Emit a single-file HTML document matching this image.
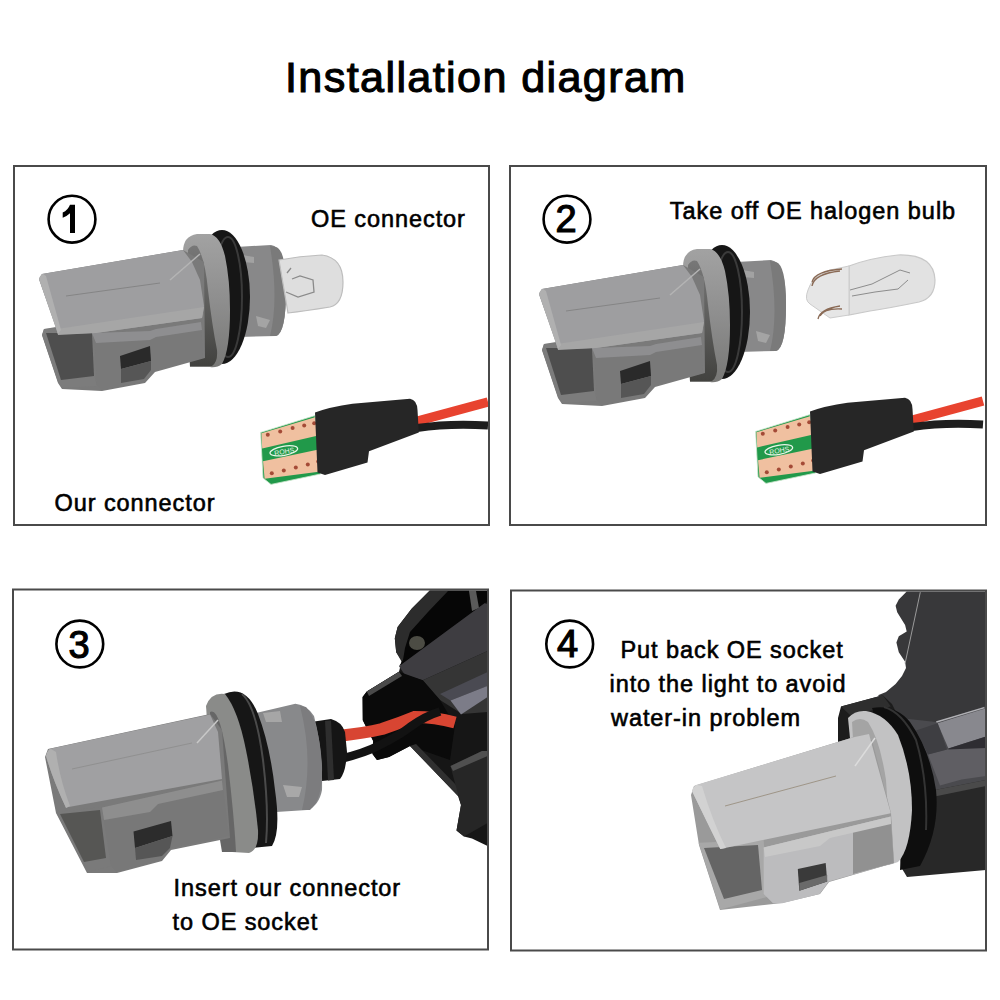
<!DOCTYPE html>
<html><head><meta charset="utf-8"><style>
html,body{margin:0;padding:0;background:#fff;width:1000px;height:1000px;overflow:hidden}
svg{display:block}
text{font-family:"Liberation Sans",sans-serif}
</style></head><body>
<svg width="1000" height="1000" viewBox="0 0 1000 1000">
<rect width="1000" height="1000" fill="#fff"/>
<defs>
<g id="conn">
  <!-- cylinder -->
  <path d="M236,247 L271,245 Q286,247 286,290 Q286,333 276,336 L238,337 Z" fill="#888889"/>
  <path d="M276,247 Q286,250 286,290 Q286,333 276,336 L270,336 Q279,300 270,246 Z" fill="#7a7a7a"/>
  <path d="M242,255 L254,257 L254,263 L243,262 Z" fill="#a2a2a2"/>
  <path d="M256,316 L270,320 L266,328 L258,326 Z" fill="#a4a4a4"/>
  <!-- ring -->
  <ellipse cx="222" cy="297" rx="28" ry="67" fill="#161616"/>
  <ellipse cx="228" cy="297" rx="14" ry="60" fill="none" stroke="#3a3a3a" stroke-width="2"/>
  <!-- flange -->
  <linearGradient id="gFl" gradientUnits="userSpaceOnUse" x1="0" y1="234" x2="0" y2="367"><stop offset="0" stop-color="#a2a2a2"/><stop offset="0.5" stop-color="#8e8e8e"/><stop offset="1" stop-color="#787876"/></linearGradient>
  <linearGradient id="gFi" gradientUnits="userSpaceOnUse" x1="0" y1="246" x2="0" y2="366"><stop offset="0" stop-color="#777"/><stop offset="1" stop-color="#42423f"/></linearGradient>
  <path d="M183,252 Q183,236 197,234 L210,234 Q220,236 225,256 Q230,280 230,310 Q230,350 222,364 Q217,368 210,367 L190,367 Z" fill="url(#gFl)"/>
  <path d="M188,250 Q192,244 197,246 Q205,258 208,290 Q212,325 217,350 Q218,362 212,366 L190,366 Z" fill="url(#gFi)"/>
  <path d="M42,274 L183,250 L204,262 L205,358 L155,372 L145,383 L102,391 L62,389 L58,383 L42,335 L44,329 L56,327 L39,279 Z" fill="#7a7a7a"/>
  <!-- tongue -->
  <path d="M44,329 L92,327 L95,378 L97,386 L62,388 L58,382 L42,335 Z" fill="#7c7c7c"/>
  <path d="M46,333 L92,333 L94,376 L61,380 Z" fill="#4e4e4e"/>
  <!-- front block -->
  <path d="M92,333 L150,331 L156,329 L201,322 L203,358 L155,370 L145,382 L102,390 L97,385 L95,350 Z" fill="#797979"/>
  <path d="M92,333 L150,331 L156,329 L201,322 L202,330 L156,337 L150,340 L96,343 Z" fill="#8e8e90"/>
  <path d="M120,356 L150,346 L151,361 L121,369 Z" fill="#2a2a2a"/>
  <path d="M121,369 L151,361 L151,370 L144,379 L121,383 Z" fill="#565656"/>
  <!-- top plate -->
  <path d="M42,274 L183,250 L192,262 L200,280 L204,306 L202,318 L96,333 L58,334 L39,279 Z" fill="#9e9ea0"/>
  <path d="M57,329 L204,307 L202,318 L96,333 L58,335 Z" fill="#a6a6a6"/>
  <path d="M39,279 Q40,275 43,274 L46,276 L61,330 L58,334 Z" fill="#b0b0b0"/>
  <path d="M66,296 L160,283" stroke="#7e7e7e" stroke-width="0.8" fill="none"/>
  <path d="M170,280 L200,254" stroke="#b4b4b4" stroke-width="1.5" fill="none"/>
</g>
<g id="bulb1">
  <path d="M279,260 Q300,256 322,255 Q343,258 343,282 Q343,304 330,307 Q305,311 288,313 Z" fill="#dedede" stroke="#bdbdbd" stroke-width="1.2"/>
  <path d="M286,292 L298,297 L314,292 L313,280 L300,276 L292,279 M287,273 L291,268" fill="none" stroke="#8a8a8a" stroke-width="1.3"/>
</g>
<g id="pcb">
  <path d="M260.6,432.4 L315,415.6 L320.6,474 L271,484.4 L263,478 Z" fill="#21994a" stroke="#cfe8d0" stroke-width="0.8"/>
  <path d="M261.4,433.2 L315,417.2 L318.2,435.6 L262.2,448.4 Z" fill="#f0c0a0"/>
  <path d="M263,461.2 L319.8,449.2 L320.6,471.6 L264.6,478.8 Z" fill="#f0c0a0"/>
  <ellipse cx="283.8" cy="450.8" rx="14" ry="4.6" transform="rotate(-10 283.8 450.8)" fill="none" stroke="#e8f5e8" stroke-width="1.3"/>
  <text x="274" y="454" font-size="7" fill="#e8f5e8" transform="rotate(-10 283.8 450.8)">ROHS</text>
  <g fill="#a44a36">
    <circle cx="267.8" cy="434.8" r="2"/><circle cx="280.2" cy="431.6" r="2"/><circle cx="292.6" cy="428" r="2"/><circle cx="304.2" cy="425.6" r="2"/><circle cx="314.2" cy="423.2" r="2"/>
    <circle cx="271.8" cy="473.2" r="2"/><circle cx="283.8" cy="470.4" r="2"/><circle cx="295.8" cy="467.6" r="2"/><circle cx="307.8" cy="464.4" r="2"/><circle cx="318.2" cy="461.6" r="2"/>
  </g>
  <path d="M488,402 L414,422" stroke="#e8432f" stroke-width="9.5" fill="none"/>
  <path d="M417,428 Q450,423 488,425.5" stroke="#1e1e1e" stroke-width="8" fill="none"/>
  <path d="M315,412.5 Q330,407 352.5,403.8 L410,398.8 Q417,400 417.5,410 L418.8,432.5 L369,451.3 L367.5,462.5 L325,475 L317.5,472.5 Z" fill="#262626"/>
</g>
</defs>

<use href="#conn"/>
<use href="#bulb1"/>
<use href="#pcb"/>
<use href="#conn" transform="translate(500,15)"/>
<g id="bulb2">
  <path d="M849,266 Q870,258 898,255 Q934,254 935,280 Q935,298 919,302 Q890,308 870,311 L849,315 Z" fill="#e2e2e2" stroke="#c8c8c8" stroke-width="1.2"/>
  <path d="M849,266 L830,270 Q812,276 808,290 Q804,300 810,304 L830,318 L849,315 Z" fill="#e6e6e6" stroke="#cccccc" stroke-width="1"/>
  <path d="M812,286 Q814,274 840,271 M812,282 Q815,271 842,269 M818,319 Q820,309 840,306 M820,316 Q824,308 842,309" stroke="#8a6a55" stroke-width="1.3" fill="none"/>
  <path d="M850,290 L872,284 L900,270 L910,273 M852,296 L875,292 L898,289 L908,280" stroke="#8c8c8c" stroke-width="1" fill="none"/>
</g>

<use href="#pcb" transform="translate(495,-1)"/>

<!-- ===== BOX 3 ===== -->
<g id="box3">
  <!-- housing base -->
  <path d="M429.8,590.6 L487.6,590.6 L487.6,846 L472,838.5 L464,836.5 L456.5,830.5 L461,805 L458,796 L410,746 L389,757 L377,760 L372.5,754 L373.2,741 L362.8,720.2 L362.6,697 L366.8,691.4 L399,671.8 L401.8,660.6 L396.2,652.2 L394.8,638.2 L397.6,627 L411.6,608.8 Z" fill="#161616"/>
  <!-- arm -->
  <path d="M429.8,590.6 L469,590.6 L469,596 L430,625 L410,648 L401.8,662 L396.2,652.2 L394.8,638.2 L397.6,627 L411.6,608.8 Z" fill="#2c2c2c"/>
  <path d="M448,591 L487,591 L487,602 L484.5,603.2 L399,666.2 L403,660 L405,648 L410,632 L428,612 Z" fill="#060606"/>
  <ellipse cx="417" cy="643" rx="8" ry="7" fill="#4c4c44"/>
  <path d="M469,591 L476,591 L479,608 L472,611 Z" fill="#5a5a5a"/>
  <!-- bar -->
  <path d="M399,666.2 L484.5,603.2 L487.6,604 L487.6,651 L422.8,680.2 L405,675 Z" fill="#3e3d41"/>
  <path d="M422.8,680.2 L487.6,651 L487.6,712 L462,714 L440,700 Z" fill="#353535"/>
  <path d="M440,694 L487.6,672 L487.6,686 L450.5,700.6 Z" fill="#4a4a52"/>
  <path d="M450.5,700.6 L486,686.6 L487.6,686 L487.6,697 L461,714.6 Z" fill="#7c7c88"/>
  <!-- left block -->
  <path d="M366.8,691.4 L399,671.8 L422.8,680.2 L440,700 L455,725 L450,760 L410,746 L389,757 L377,760 L372.5,754 L373.2,741 L362.8,720.2 L362.6,697 Z" fill="#0a0a0a"/>
  <path d="M366.8,691.4 L399,671.8 L402,676 L369,696 Z" fill="#4a4a4a"/>
  <path d="M410,746 L458,796 L461,790 L416,744 Z" fill="#303030"/>
  <!-- hook -->
  <path d="M450.5,766 L482,751 L487.6,751 L487.6,823 L464,836.5 L456.5,830.5 L461,805 L452,772 Z" fill="#262626"/>
  <path d="M450.5,766 L482,751 L487.6,751 L487.6,756 L453,771 Z" fill="#505050"/>
  <!-- wires -->
  <path d="M338,736 Q365,733 382,729 Q400,723 414.5,717 Q435,717 455,722.5" stroke="#d84532" stroke-width="12" fill="none"/>
  <path d="M340,759 Q365,753 380,745 Q400,735 410,727 Q425,716 440,711.5" stroke="#121212" stroke-width="8.5" fill="none"/>
  <!-- grommet -->
  <path d="M311,722 L331,719 Q342,722 345,732 L347,752 Q346,772 340,779 L322,781 L313,772 Z" fill="#151515"/>
  <path d="M325,721 L331,720.5 L334,780 L328,780.5 Z" fill="#2e2e2e"/>
  <!-- cylinder -->
  <path d="M256,713 L295.4,703.8 Q307,705 314,716 Q323,750 322,790 Q319,806 307,810 L276,812 Z" fill="#88898b"/>
  <path d="M306,707 Q319,720 322,765 Q323,800 310,810 L302,810 Q314,760 300,706 Z" fill="#7c7c7e"/>
  <path d="M263,713 L280,711 L282,722 L266,722 Z" fill="#a6a6a6"/>
  <path d="M283,785 L302,787 L299,797 L287,797 Z" fill="#a8a8a8"/>
  <!-- ring -->
  <path d="M224,694 Q246,684 258,714 Q270,745 275,790 Q281,832 272,846 L252,848 Q240,780 224,694 Z" fill="#161616"/>
  <path d="M242,694 Q256,706 263,760 Q269,810 266,843" fill="none" stroke="#4a4a4a" stroke-width="2"/>
  <!-- flange -->
  <path d="M206,706 Q211,692 225,694 Q238,710 246,750 Q254,790 258,830 Q259,850 249,853 L232,852 L210,760 Z" fill="#8a8b89"/>
  <path d="M210,712 Q220,706 228,765 Q234,815 236,852 L222,852 L210,780 Z" fill="#666"/>
  <!-- body base -->
  <path d="M48,749 L210,714 L222,730 L230,838 L171,850 L162,861 L117,873 L87,873 L56,813 L45,757 Z" fill="#7a7a7a"/>
  <!-- tongue -->
  <path d="M56,812 L102,807 L111,866 L88,872 Z" fill="#7a7a7a"/>
  <path d="M60,814 L100,810 L106,858 L84,862 Z" fill="#565654"/>
  <!-- front block -->
  <path d="M102,807.5 L222,780.5 L229,836 L171,848 L162,860 L117,872 L111,866 Z" fill="#787878"/>
  <path d="M102,807.5 L222,780.5 L223,790 L158,804 L150,812 L104,820 Z" fill="#8e8e8e"/>
  <path d="M133.5,831.5 L171,821 L172.5,836 L135,848 Z" fill="#2c2c2c"/>
  <path d="M135,848 L172.5,836 L170,848 L162,856 L136,860 Z" fill="#565656"/>
  <!-- plate top face -->
  <path d="M49,749 L210,714.5 L218,732 L222,779 L66,807.5 Q53,780 46,756 Z" fill="#a0a0a2"/>
  <path d="M46,756 Q47,750 51,749 L56,752 Q60,780 70,806 L66,808 Q53,780 46,756 Z" fill="#b0b0b0"/>
  <path d="M72,769 L192,743" stroke="#8c8c8c" stroke-width="0.8" fill="none"/>
  <path d="M197,743 L218,720" stroke="#c8c8c8" stroke-width="1.5" fill="none"/>
</g>
<!-- ===== BOX 4 ===== -->
<g id="box4">
  <!-- upper housing -->
  <path d="M906.7,591.5 L986,591.5 L986,708 L936,722 L916,730 L900,718 L884,700 L878,695.3 L886,692 L895.6,684 L902,676 L906,668 L905.1,661.7 L898.8,652.2 L896.4,642.6 L898.8,636.2 L906.7,631.4 L905.1,625 L897.2,612.2 L895.6,605.8 L898.8,599.4 Z" fill="#38383a"/>
  <path d="M920.3,592.2 L905.1,663.3" stroke="#9a9a9a" stroke-width="1" fill="none"/>
  <!-- collar -->
  <path d="M841,706.5 L882.8,695.3 L892,704 L900,720 L870,740 L848,760 L838,760 L838,718 Z" fill="#1c1c1c"/>
  <path d="M841,706.5 L882.8,695.3 L890.8,706.5 L850,715 Z" fill="#2e2e2e"/>
  <!-- middle facets -->
  <path d="M900,718 L936,722 L986,706 L986,782 L940,792 L905,800 Z" fill="#4a4a4e"/>
  <path d="M937.6,723.2 L984.4,708.8 L986,709 L986,736.4 L948.4,748.4 Z" fill="#88888e"/>
  <path d="M936.4,722 L984.4,707.6" stroke="#b0b0b4" stroke-width="1.5" fill="none"/>
  <path d="M948.4,748.4 L986,736.4 L986,750 L950,760 Z" fill="#2e2d32"/>
  <path d="M928,754.4 L947,749.6 L986,748 L986,776 L961.6,779.6 L940,785.6 Z" fill="#5f5e63"/>
  <path d="M916,730.4 L937.6,723.2 L947,749.6 L928,754.4 Z" fill="#3e3e42"/>
  <!-- lower block -->
  <path d="M897,798 L940,789 L986,780 L986,870 L907,877 L901,867 Z" fill="#282828"/>
  <path d="M897,798 L940,789 L986,780 L986,786 L942,795 L899,804 Z" fill="#4a4a4a"/>
  <!-- ring -->
  <path d="M872,708 Q895,704 910,722 Q930,750 936,790 Q940,830 920,866 L900,870 Q905,800 872,708 Z" fill="#0e0e0e"/>
  <path d="M884,707 Q902,712 916,740 Q928,780 926,830" stroke="#333" stroke-width="2" fill="none"/>
  <!-- flange -->
  <path d="M848,718 Q855,710 866,711 Q885,714 898,735 Q912,770 912,810 Q910,850 898,862 Q880,870 862,860 Z" fill="#c2c2c3"/>
  <path d="M852,722 Q860,716 868,722 Q880,740 886,780 Q890,830 884,862 L860,860 Z" fill="#a4a4a4"/>
  <!-- body base -->
  <path d="M694,786 L854,737 L872,740 L891,813 L894,863 L829,882 L820,894 L782,903 L720,910 L699,845 L691,795 Z" fill="#9a9a9a"/>
  <!-- tongue -->
  <path d="M698.6,842.7 L763.7,840 L767,897 L720.3,909.4 Z" fill="#a8a8a8"/>
  <path d="M704,848 L758,845 L762,890 L724,899 Z" fill="#656565"/>
  <!-- front block -->
  <path d="M763.7,847.4 L890.8,816.4 L893.9,862.9 L828.8,881.5 L819.5,893.9 L782.3,903.2 L773,903.2 L763.7,893.9 Z" fill="#bcbcbe"/>
  <path d="M853,830 L890.8,816.4 L893.9,862.9 L853,874 Z" fill="#919191"/>
  <path d="M763.7,847.4 L890.8,816.4 L891,824 L830,838 L820,846 L765,857 Z" fill="#c8c8c8"/>
  <path d="M797.8,869 L825.7,862.9 L827.2,881.5 L799.3,890.8 Z" fill="#3a3a3a"/>
  <path d="M799.3,883 L827.2,875 L827.2,881.5 L799.3,890.8 Z" fill="#6a6a6a"/>
  <!-- plate top -->
  <path d="M696,785 L853.6,737.3 L869,734 L876,760 L890.8,813.3 L720.3,849 Q706,820 692,791 Z" fill="#c5c5c6"/>
  <path d="M692,791 Q693,786 697,785 L702,786 Q712,820 726,848 L720.3,849 Q706,820 692,791 Z" fill="#d2d2d2"/>
  <path d="M725,806 L836,776" stroke="#9a9080" stroke-width="0.9" fill="none"/>
  <path d="M855,766 L875,738" stroke="#dcdcdc" stroke-width="1.5" fill="none"/>
</g>
<!-- title -->
<text x="285" y="91.5" font-size="43.2" letter-spacing="1.36" fill="#000" stroke="#000" stroke-width="1.1">Installation diagram</text>
<!-- boxes -->
<g fill="none" stroke="#4a4a4a" stroke-width="2">
<rect x="14" y="166" width="475" height="359"/>
<rect x="510" y="166" width="476" height="359"/>
<rect x="13" y="589.5" width="475" height="360"/>
<rect x="511" y="590.5" width="475" height="360"/>
</g>
<!-- circles -->
<g fill="none" stroke="#000" stroke-width="2.6">
<circle cx="72" cy="219.2" r="23.4"/>
<circle cx="567" cy="219.2" r="23.4"/>
<circle cx="79.8" cy="644" r="23.4"/>
<circle cx="569.7" cy="644" r="23.4"/>
</g>
<path d="M70,204.7 L75,204.7 L75,233 L70,233 L70,213.2 Q66.6,216.4 62.7,217.8 L62.7,212.6 Q68,210 70,204.7 Z" fill="#000"/>
<g font-size="38" fill="#000" stroke="#000" stroke-width="1.2">
<text x="555.5" y="232.3">2</text>
<text x="68.6" y="657.5">3</text>
<text x="557" y="657.3">4</text>
</g>
<g font-size="23.5" letter-spacing="0.93" fill="#000" stroke="#000" stroke-width="0.6">
<text x="311" y="227">OE connector</text>
<text x="54.5" y="511">Our connector</text>
<text x="669.8" y="219" letter-spacing="0.95">Take off OE halogen bulb</text>
<text x="173.5" y="895.5">Insert our connector</text>
<text x="172.5" y="930">to OE socket</text>
<text x="620.5" y="657.5">Put back OE socket</text>
<text x="609.5" y="692">into the light to avoid</text>
<text x="611" y="726">water-in problem</text>
</g>
</svg>
</body></html>
